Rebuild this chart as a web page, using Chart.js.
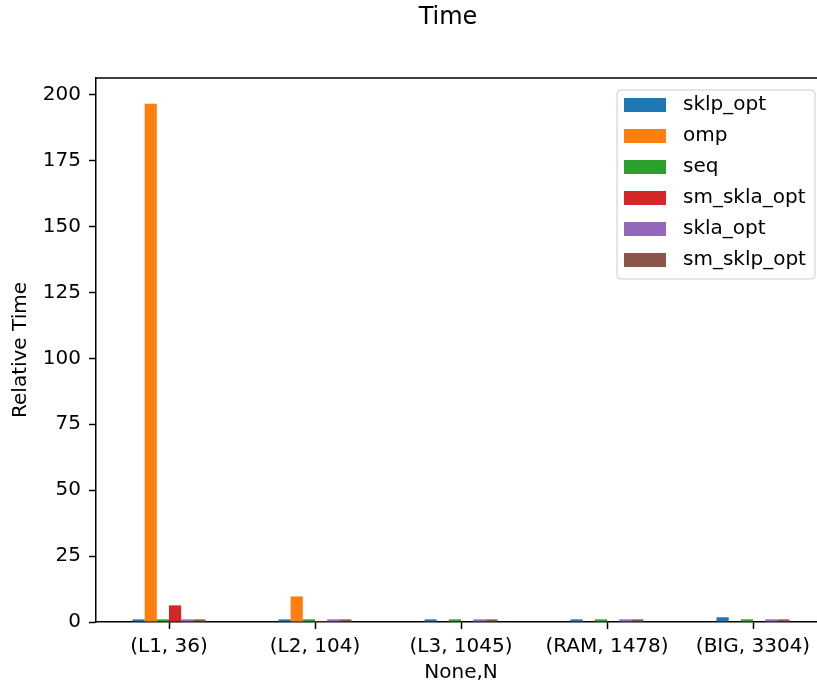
<!DOCTYPE html>
<html>
<head>
<meta charset="utf-8">
<title>Time</title>
<script src="https://cdn.jsdelivr.net/npm/chart.js@4/dist/chart.umd.min.js"></script>
<style>
  body { margin: 0; background: #fff; overflow: hidden; }
  #wrap { width: 817px; height: 685px; overflow: hidden; }
</style>
</head>
<body>
<div id="wrap"><canvas id="timeChart" width="826" height="685"></canvas></div>
<script>
// categories (None,N)
const categories = ['(L1, 36)', '(L2, 104)', '(L3, 1045)', '(RAM, 1478)', '(BIG, 3304)'];

// relative time per method
const sklpOpt   = [1.0, 1.0, 1.0, 1.0, 1.8];
const omp       = [196.5, 9.7, 0, 0, 0];
const seq       = [1.0, 1.0, 1.0, 1.0, 1.0];
const smSklaOpt = [6.3, 0.4, 0, 0, 0];
const sklaOpt   = [1.0, 1.0, 1.0, 1.0, 1.0];
const smSklpOpt = [1.0, 1.0, 1.0, 1.0, 1.0];

const seriesNames = ['sklp_opt', 'omp', 'seq', 'sm_skla_opt', 'skla_opt', 'sm_sklp_opt'];
const seriesData = [sklpOpt, omp, seq, smSklaOpt, sklaOpt, smSklpOpt];
const colors = ['#1f77b4', '#ff7f0e', '#2ca02c', '#d62728', '#9467bd', '#8c564b'];

const yMax = 206.3;
const yStep = 25;

const FONT = 'DejaVu Sans';
Chart.defaults.font.family = FONT;
Chart.defaults.font.size = 20;
Chart.defaults.color = '#000';

// frame, title and legend drawn like matplotlib
const extras = {
    id: 'extras',
    afterDraw(chart) {
        const ctx = chart.ctx;
        const a = chart.chartArea;
        ctx.save();
        ctx.strokeStyle = '#000';
        ctx.lineWidth = 1.5;
        ctx.beginPath();
        ctx.moveTo(a.left, a.top);
        ctx.lineTo(a.right, a.top);
        ctx.lineTo(a.right, a.bottom);
        ctx.stroke();

        // title
        ctx.fillStyle = '#000';
        ctx.font = '24px "' + FONT + '"';
        ctx.textAlign = 'center';
        ctx.textBaseline = 'middle';
        ctx.fillText('Time', 448, 18);

        // legend
        const bx = 617, by = 90, bw = 198, bh = 189;
        ctx.beginPath();
        ctx.roundRect(bx, by, bw, bh, 4);
        ctx.fillStyle = 'rgba(255,255,255,0.8)';
        ctx.fill();
        ctx.strokeStyle = '#cccccc';
        ctx.lineWidth = 1;
        ctx.stroke();
        ctx.font = '20px "' + FONT + '"';
        ctx.textAlign = 'left';
        chart.data.datasets.forEach(function(ds, i) {
            const cy = 105 + i * 31;
            ctx.fillStyle = ds.backgroundColor;
            ctx.fillRect(624, cy - 7, 42, 14);
            ctx.fillStyle = '#000';
            ctx.fillText(ds.label, 683, cy);
        });
        ctx.restore();
    }
};

const datasets = seriesNames.map(function(name, i) {
    return {
        label: name,
        data: seriesData[i],
        backgroundColor: colors[i],
        borderWidth: 0,
        categoryPercentage: 0.5,
        barPercentage: 1.0
    };
});

new Chart(document.getElementById('timeChart'), {
    type: 'bar',
    data: { labels: categories, datasets: datasets },
    options: {
        responsive: false,
        animation: false,
        layout: { padding: { top: 78, left: 0, right: 0, bottom: 0 } },
        plugins: {
            legend: { display: false },
            title: { display: false },
            tooltip: { enabled: false }
        },
        scales: {
            x: {
                grid: { display: true, drawOnChartArea: false, drawTicks: true, tickLength: 7, tickColor: '#000', tickWidth: 1.5, offset: false },
                border: { display: true, color: '#000', width: 1.5 },
                ticks: { padding: 6, maxRotation: 0, autoSkip: false },
                title: { display: true, text: 'None,N', padding: { top: 0, bottom: 0 } },
                afterFit: function(scale) { scale.height = 63; }
            },
            y: {
                min: 0,
                max: yMax,
                grid: { display: true, drawOnChartArea: false, drawTicks: true, tickLength: 7, tickColor: '#000', tickWidth: 1.5 },
                border: { display: true, color: '#000', width: 1.5 },
                ticks: { stepSize: yStep, includeBounds: false, padding: 8 },
                title: { display: true, text: 'Relative Time', padding: { top: 9, bottom: 0 } },
                afterFit: function(scale) { scale.width = 96; }
            }
        }
    },
    plugins: [extras]
});
</script>
</body>
</html>
